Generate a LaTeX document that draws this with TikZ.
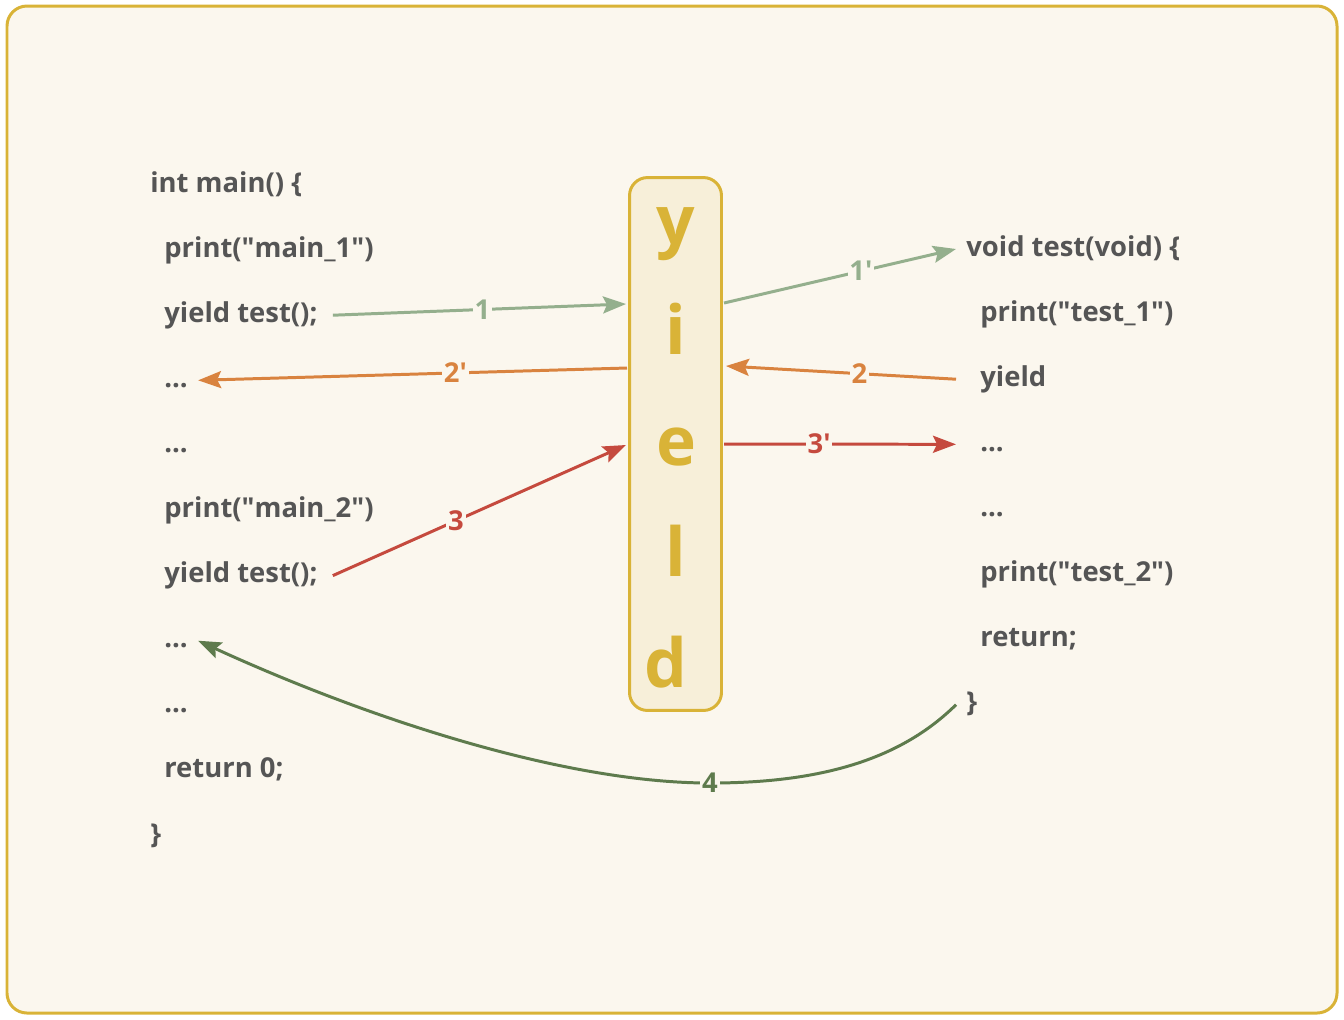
\documentclass[tikz,border=0pt]{standalone}
\usepackage{fontspec}
\setmainfont{Open Sans}
\usetikzlibrary{arrows.meta}
\definecolor{paper}{HTML}{FBF7EE}
\definecolor{gold}{HTML}{D9B337}
\definecolor{boxfill}{HTML}{F7EFD9}
\definecolor{codegray}{HTML}{555555}
\definecolor{flowsage}{HTML}{94AF8D}
\definecolor{floworange}{HTML}{D9833F}
\definecolor{flowred}{HTML}{C54A3E}
\definecolor{flowgreen}{HTML}{5E7B4D}
\newcommand{\qq}{\textquotedbl}
\newcommand{\pr}{\textquotesingle}
\begin{document}
\begin{tikzpicture}[x=0.02cm, y=-0.02cm,
    codeline/.style={anchor=base west, text=codegray,
      font=\fontsize{15.6}{18}\selectfont\bfseries,
      text height=0.38cm, text depth=0.1cm, inner xsep=0.2cm, inner ysep=0pt},
    bigletter/.style={anchor=base, text=gold, font=\fontsize{38.5}{40}\selectfont\bfseries},
    flow/.style={line width=1.7pt, -{Stealth[length=0.46cm, width=0.34cm, inset=0.08cm]}},
    steplabel/.style={fill=paper, inner sep=1pt, font=\fontsize{15.6}{18}\selectfont\bfseries}]
  \useasboundingbox (0,0) rectangle (1344,1019);
  \draw[gold, fill=paper, line width=1.7pt, rounded corners=0.4cm] (7,6) rectangle (1337,1013);

  % main side
  \node[codeline] (m0) at (140,192.0) {int main() \{};
  \node[codeline] (m1) at (140,257.1) {\hspace{0.28cm}print(\qq main\_1\qq)};
  \node[codeline] (m2) at (140,322.2) {\hspace{0.28cm}yield test();};
  \node[codeline] (m3) at (140,387.3) {\hspace{0.28cm}...};
  \node[codeline] (m4) at (140,452.4) {\hspace{0.28cm}...};
  \node[codeline] (m5) at (140,517.5) {\hspace{0.28cm}print(\qq main\_2\qq)};
  \node[codeline] (m6) at (140,582.6) {\hspace{0.28cm}yield test();};
  \node[codeline] (m7) at (140,647.7) {\hspace{0.28cm}...};
  \node[codeline] (m8) at (140,712.8) {\hspace{0.28cm}...};
  \node[codeline] (m9) at (140,777.9) {\hspace{0.28cm}return 0;};
  \node[codeline] (m10) at (140,843.0) {\}};

  % test side
  \node[codeline] (t0) at (956,256.0) {void test(void) \{};
  \node[codeline] (t1) at (956,321.1) {\hspace{0.28cm}print(\qq test\_1\qq)};
  \node[codeline] (t2) at (956,386.2) {\hspace{0.28cm}yield};
  \node[codeline] (t3) at (956,451.3) {\hspace{0.28cm}...};
  \node[codeline] (t4) at (956,516.4) {\hspace{0.28cm}...};
  \node[codeline] (t5) at (956,581.5) {\hspace{0.28cm}print(\qq test\_2\qq)};
  \node[codeline] (t6) at (956,646.6) {\hspace{0.28cm}return;};
  \node[codeline] (t7) at (956,711.7) {\}};

  % yield box
  \node[draw=gold, fill=boxfill, line width=1.7pt, rounded corners=0.36cm,
    minimum width=1.84cm, minimum height=10.66cm] (yieldbox) at (675.5,444) {};
  \node[bigletter] (ly) at (676,244) {y};
  \node[bigletter] (li) at (676,354.75) {i};
  \node[bigletter] (le) at (676,465.5) {e};
  \node[bigletter] (ll) at (676,576.25) {l};
  \node[bigletter] (ld) at (666,687) {d};

  \coordinate (in1) at (626,304);
  \coordinate (out1) at (724,303);
  \coordinate (in2) at (726,366);
  \coordinate (out2) at (627,368);
  \coordinate (in3) at (626,445);
  \coordinate (out3) at (724,444);

  \draw[flow, flowsage] ([xshift=0.1cm]m2.east) -- node[steplabel, pos=0.51] {1} (in1);
  \draw[flow, flowsage] (out1) -- node[steplabel, pos=0.59] {1\pr} (t0.west);
  \draw[flow, floworange] (t2.west) -- node[steplabel, pos=0.42] {2} (in2);
  \draw[flow, floworange] (out2) -- node[steplabel, pos=0.4] {2\pr} (m3.east);
  \draw[flow, flowred] ([xshift=0.1cm]m6.east) -- node[steplabel, pos=0.42] {3} (in3);
  \draw[flow, flowred] (out3) -- node[steplabel, pos=0.41] {3\pr} (t3.west);
  \draw[flow, flowgreen] (t7.west) .. controls (900,760) and (820,783) .. (710,783)
    node[steplabel] {4} .. controls (560,783) and (360,715) .. (m7.east);
\end{tikzpicture}
\end{document}
